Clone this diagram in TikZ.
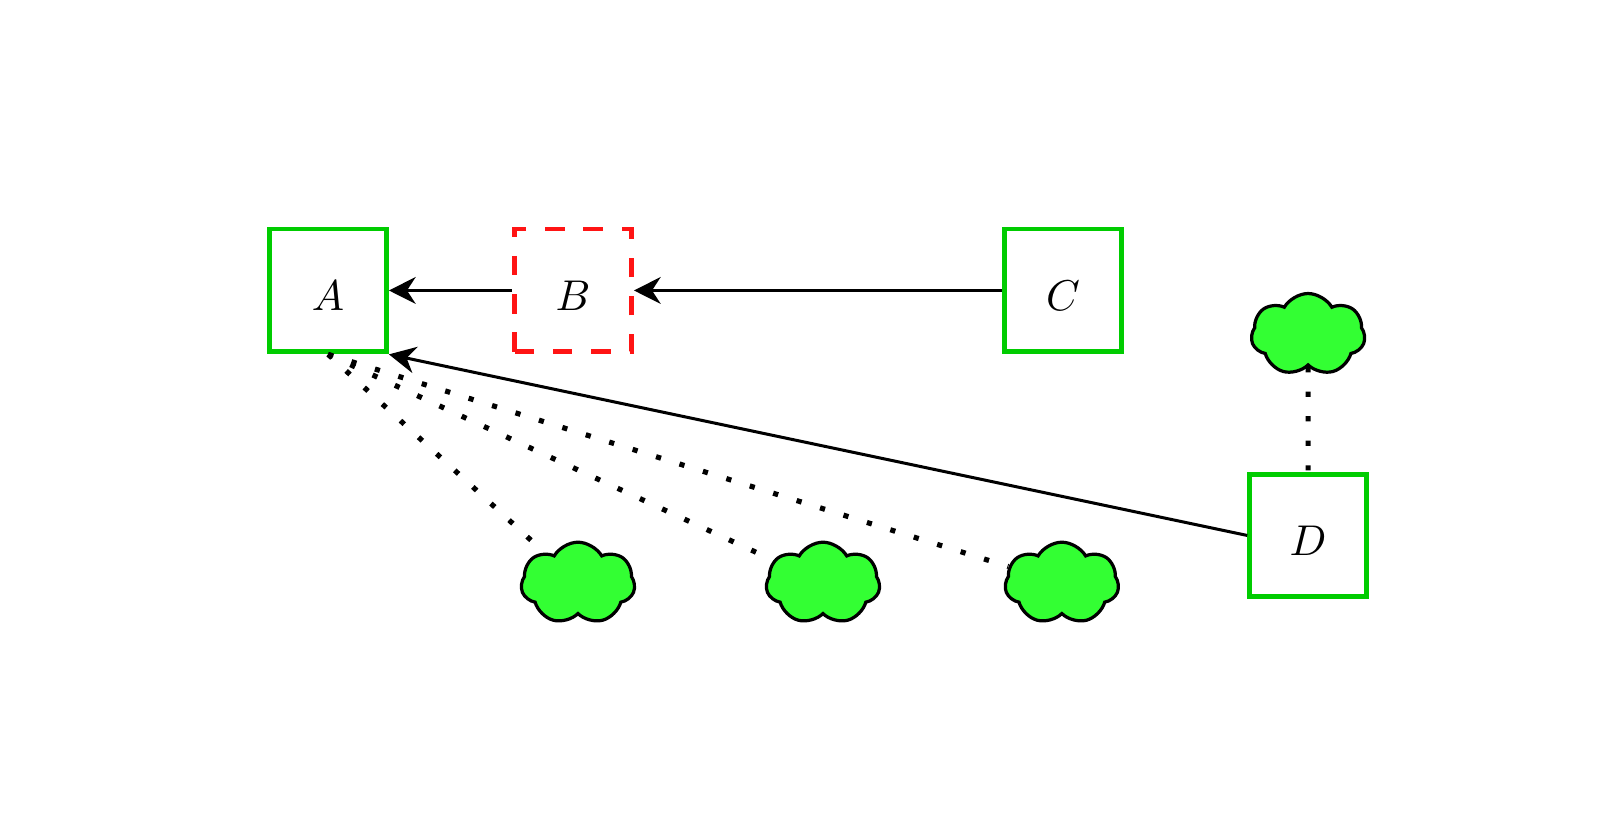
\documentclass[tikz,border=0pt]{standalone}
\usetikzlibrary{shapes.symbols,arrows.meta}
\definecolor{boxgreen}{RGB}{0,204,0}
\definecolor{cloudgreen}{RGB}{51,255,51}
\definecolor{boxred}{RGB}{255,20,20}
\begin{document}
\begin{tikzpicture}[
  greenbox/.style={draw=boxgreen, line width=1.15pt, minimum width=0.953cm, minimum height=1.003cm, inner sep=0pt, text height=9.5pt, text depth=0pt},
  redbox/.style={greenbox, draw=boxred, dash pattern=on 4.5pt off 4.4pt},
  puff/.style={cloud, cloud puffs=7, cloud puff arc=120, cloud ignores aspect, draw=black, line width=0.75pt, fill=cloudgreen, minimum width=0.93cm, minimum height=0.67cm, inner sep=0pt},
  link/.style={line width=0.7pt, -{Stealth[length=6.2pt,width=6.2pt,inset=2pt]}},
  dots/.style={line width=1.2pt, dash pattern=on 1.2pt off 4.5pt}
]
\useasboundingbox (-2.678,-4.396) rectangle (10.383,2.371);
\node[greenbox] (A) at (0,0) {$A$};
\node[redbox] (B) at (2,0) {$B$};
\node[greenbox] (C) at (6,0) {$C$};
\node[greenbox] (D) at (8,-2) {$D$};
\node[puff] (c1) at (2.04,-2.39) {};
\node[puff] (c2) at (4.04,-2.39) {};
\node[puff] (c3) at (5.99,-2.39) {};
\node[puff] (t) at (8,-0.36) {};
\draw[link] (B) -- (A);
\draw[link] (C) -- (B);
\draw[link] (D.west) -- (A.south east);
\draw[dots] (A.south) -- (c1);
\draw[dots] (A.south) -- (c2);
\draw[dots] (A.south) -- (c3);
\draw[dots] (t) -- (D);
\end{tikzpicture}
\end{document}
